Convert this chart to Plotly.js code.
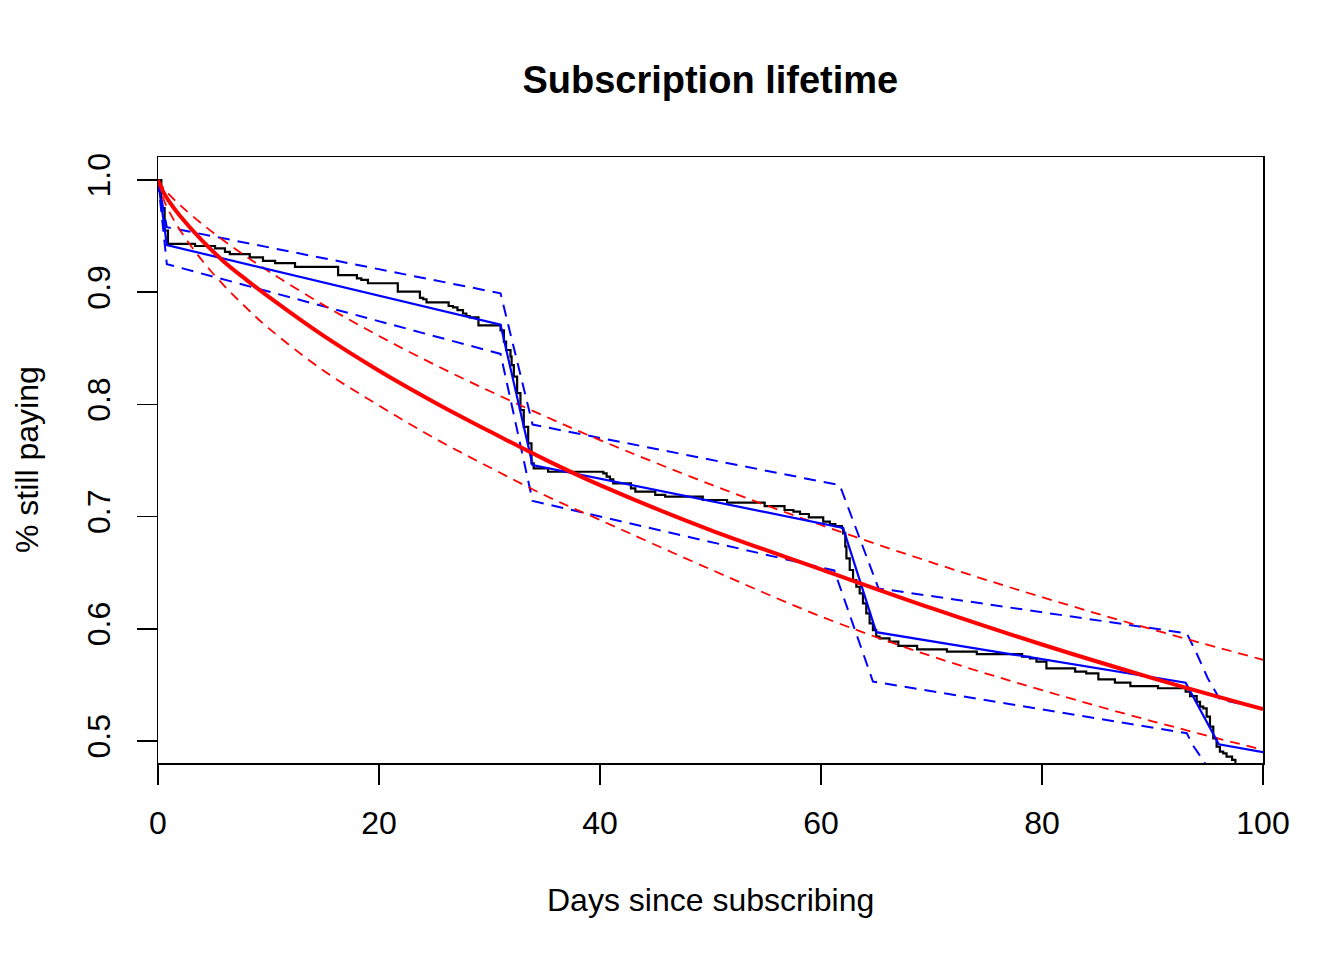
<!DOCTYPE html>
<html>
<head>
<meta charset="utf-8">
<script src="https://cdn.plot.ly/plotly-3.0.1.min.js"></script>
<style>html,body{margin:0;padding:0;background:#fff;}#chart{width:1344px;height:960px;}</style>
</head>
<body>
<div id="chart"></div>
<script>
// Kaplan-Meier step curve (black)
const kmDays = [0,0.3,0.6,0.9,3.35,5.16,6.06,6.5,8.3,9.5,10.6,12.4,16.3,18.0,18.4,19.0,21.7,23.7,24.0,24.3,26.3,26.7,27.1,27.6,27.9,28.2,29.0,31.0,31.3,31.5,31.9,32.0,32.2,32.5,32.8,33.1,33.5,33.8,34.0,35.3,40.3,40.6,40.9,41.2,42.8,43.2,45.0,45.9,49.3,51.5,54.9,56.7,57.5,58.1,58.9,60.2,60.8,61.3,61.9,62.0,62.2,62.3,62.6,62.9,63.2,63.5,63.8,64.1,64.4,64.7,65.0,65.3,66.2,67.0,68.7,71.4,74.1,78.2,78.9,79.5,80.4,83.0,84.0,85.1,86.6,88.0,90.5,93.0,93.4,94.0,94.3,94.6,94.9,95.2,95.5,95.8,96.1,96.4,96.7,97.2,97.5];
const kmSurv = [1.0,0.975,0.955,0.943,0.9412,0.939,0.936,0.934,0.931,0.928,0.926,0.9225,0.9153,0.9124,0.911,0.908,0.9005,0.895,0.8937,0.891,0.8877,0.8865,0.884,0.881,0.8788,0.8776,0.8705,0.866,0.856,0.8485,0.8425,0.835,0.8247,0.81,0.795,0.78,0.7653,0.7475,0.743,0.740,0.7386,0.7356,0.7332,0.7297,0.7252,0.7222,0.7193,0.7178,0.7148,0.7124,0.7094,0.7059,0.7044,0.7023,0.6993,0.6955,0.6934,0.6916,0.6896,0.6851,0.6732,0.6628,0.6524,0.6435,0.6375,0.6316,0.6227,0.6138,0.6049,0.5989,0.593,0.5915,0.5885,0.5847,0.5817,0.5796,0.5775,0.5751,0.5737,0.5707,0.5648,0.5618,0.5603,0.555,0.552,0.549,0.547,0.544,0.540,0.535,0.5306,0.529,0.5217,0.5128,0.5024,0.4949,0.4905,0.489,0.486,0.4831,0.479];

// Piecewise model (blue) and its bounds
const pwDays = [0,0.8,31.0,33.9,62.0,65.0,93.0,96.0,100];
const pwSurv = [1.0,0.942,0.871,0.746,0.690,0.597,0.552,0.497,0.490];
const pwUpDays = [0,0.8,31.0,33.9,61.7,65.2,93.1,94.0,95.0,96.1,100];
const pwUpSurv = [1.0,0.958,0.899,0.782,0.728,0.636,0.596,0.578,0.556,0.537,0.529];
const pwLoDays = [0,0.8,31.0,33.9,61.2,64.7,93.1,93.6,94.5,95.5];
const pwLoSurv = [1.0,0.925,0.845,0.714,0.652,0.553,0.507,0.497,0.484,0.468];

// Parametric model (red) and its bounds
const parDays = [0,0.5,1,2,4,6,8,10,15,20,25,30,35,40,50,60,70,80,90,100];
const parSurv = [1.0,0.989,0.981,0.968,0.946,0.927,0.911,0.896,0.861,0.830,0.802,0.776,0.751,0.728,0.688,0.653,0.6184,0.586,0.5561,0.5284];
const parUp = [1.0,0.9927,0.9872,0.9775,0.9607,0.9456,0.9317,0.9187,0.8885,0.861,0.8356,0.8119,0.7895,0.7682,0.7287,0.6925,0.6592,0.6282,0.5994,0.5724];
const parLo = [1.0,0.9828,0.9722,0.9552,0.9282,0.9057,0.886,0.868,0.830,0.799,0.770,0.744,0.719,0.697,0.653,0.611,0.5756,0.5453,0.5176,0.4921];

const xTicks = [0,20,40,60,80,100];
const yTicks = [0.5,0.6,0.7,0.8,0.9,1.0];
const yTickText = ["0.5","0.6","0.7","0.8","0.9","1.0"];

const DASH = '12px,8px';
const traces = [
  {x: kmDays, y: kmSurv, mode:'lines', line:{color:'black', width:2.2, shape:'hv'}},
  {x: pwUpDays, y: pwUpSurv, mode:'lines', line:{color:'#0000FF', width:2, dash:DASH}},
  {x: pwLoDays, y: pwLoSurv, mode:'lines', line:{color:'#0000FF', width:2, dash:DASH}},
  {x: parDays, y: parUp, mode:'lines', line:{color:'#FF0000', width:1.8, dash:'10px,7px', shape:'spline'}},
  {x: parDays, y: parLo, mode:'lines', line:{color:'#FF0000', width:1.8, dash:'10px,7px', shape:'spline'}},
  {x: pwDays, y: pwSurv, mode:'lines', line:{color:'#0000FF', width:2.2}},
  {x: parDays, y: parSurv, mode:'lines', line:{color:'#FF0000', width:4, shape:'spline'}}
];

const FONT = 'Liberation Sans, Arial, Helvetica, sans-serif';
const layout = {
  width:1344, height:960,
  margin:{l:158, r:81, t:157, b:197},
  paper_bgcolor:'white', plot_bgcolor:'white',
  showlegend:false, hovermode:false,
  font:{family:FONT, size:32, color:'black'},
  title:{text:'<b>Subscription lifetime</b>', x:0.5285, xref:'container', xanchor:'center', y:1-80/960, yref:'container', yanchor:'middle', font:{family:FONT, size:38, color:'black'}},
  xaxis:{range:[0,100], tickvals:xTicks, ticktext:xTicks.map(String), ticks:'outside', ticklen:20, tickwidth:1.5, tickcolor:'black',
         showline:true, mirror:true, linecolor:'black', linewidth:1.5, showgrid:false, zeroline:false,
         tickfont:{family:FONT, size:32}, ticklabelstandoff:11},
  yaxis:{range:[0.4804,1.0205], tickvals:yTicks, ticktext:yTickText, ticks:'outside', ticklen:20, tickwidth:1.5, tickcolor:'black',
         showline:true, mirror:true, linecolor:'black', linewidth:1.5, showgrid:false, zeroline:false,
         tickangle:-90, tickfont:{family:FONT, size:32}, ticklabelstandoff:14},
  annotations:[
    {text:'Days since subscribing', xref:'paper', yref:'paper', x:0.5, y:0, xanchor:'center', yanchor:'middle', yshift:-137, showarrow:false, font:{family:FONT, size:32}},
    {text:'% still paying', xref:'paper', yref:'paper', x:0, y:0.5, xanchor:'center', yanchor:'middle', xshift:-131, textangle:-90, showarrow:false, font:{family:FONT, size:32}}
  ]
};
Plotly.newPlot('chart', traces, layout, {staticPlot:true, displayModeBar:false});
</script>
</body>
</html>
